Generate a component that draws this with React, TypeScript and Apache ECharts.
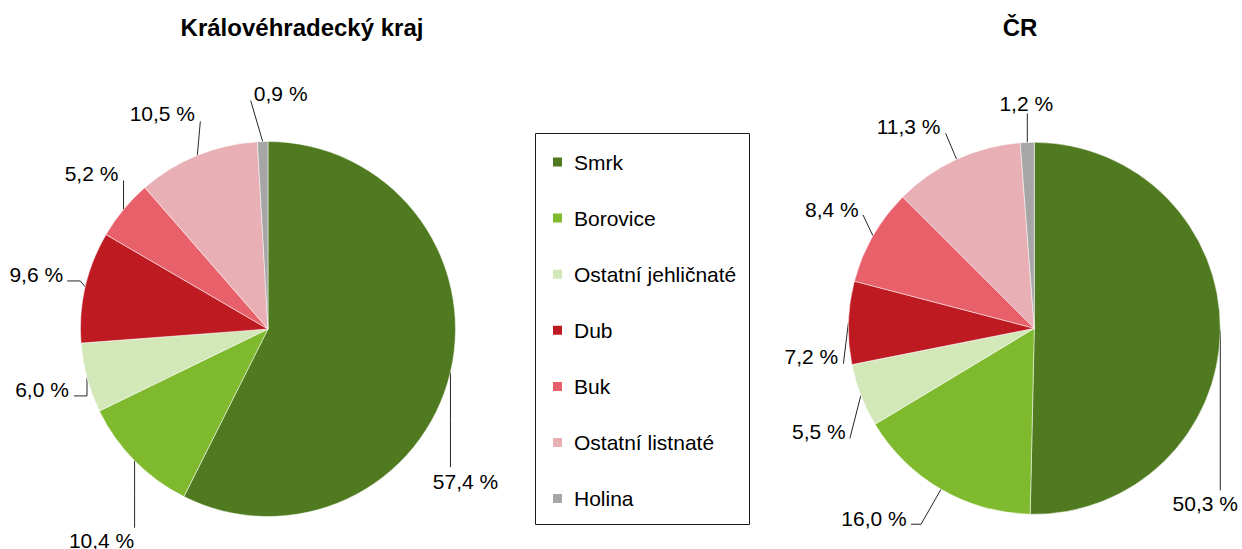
import React, { useEffect, useRef } from "react";
import * as echarts from "echarts";

// ---- data ----
const categories = [
  "Smrk",
  "Borovice",
  "Ostatní jehličnaté",
  "Dub",
  "Buk",
  "Ostatní listnaté",
  "Holina",
];
const regionValues = [57.4, 10.4, 6.0, 9.6, 5.2, 10.5, 0.9];
const czValues = [50.3, 16.0, 5.5, 7.2, 8.4, 11.3, 1.2];
const titles = ["Královéhradecký kraj", "ČR"];

// ---- styles ----
const colors = ["#4f7a1f", "#7fba2e", "#d3e8b9", "#be1a22", "#e8606a", "#e8b0b4", "#a6a6a6"];
const FONT = "'Liberation Sans', Arial, sans-serif";

// label leader-line bends relative to the slice edge point, and label offset relative to line end
const regionLabelLayout = [
  { path: [[0, 95]], label: [15, 14] },
  { path: [[0, 67]], label: [-33, 13] },
  { path: [[0, 18], [-13, 18]], label: [-32, -6] },
  { path: [[-5, -6], [-18, -6]], label: [-31, -6] },
  { path: [[0, -29]], label: [-32, -7] },
  { path: [[3, -34]], label: [-38, -8] },
  { path: [[-12, -41]], label: [30, -7] },
];
const czLabelLayout = [
  { path: [[0, 160]], label: [-15, 13] },
  { path: [[-20, 35], [-30, 35]], label: [-37, -6] },
  { path: [[-11, 43]], label: [-31, -7] },
  { path: [[-5, 41]], label: [-32, -7] },
  { path: [[-10, -21]], label: [-31, -5] },
  { path: [[-11, -26]], label: [-37, -7] },
  { path: [[0, -29]], label: [-1, -10] },
];

function makeLayout(cfg: { path: number[][]; label: number[] }[]) {
  return (params: any) => {
    const pts = params.labelLinePoints;
    if (!pts || !pts[0]) return {};
    const [sx, sy] = pts[0];
    const o = cfg[params.dataIndex];
    const line: number[][] = [[sx, sy], ...o.path.map(([dx, dy]) => [sx + dx, sy + dy])];
    if (line.length < 3) {
      const a = line[0];
      const b = line[1];
      line.splice(1, 0, [(a[0] + b[0]) / 2, (a[1] + b[1]) / 2]);
    }
    const end = line[line.length - 1];
    return {
      x: end[0] + o.label[0],
      y: end[1] + o.label[1],
      align: "center",
      verticalAlign: "middle",
      labelLinePoints: line,
    };
  };
}

function pieSeries(values: number[], center: number[], radius: number, cfg: any) {
  return {
    type: "pie",
    center,
    radius,
    startAngle: 90,
    clockwise: true,
    avoidLabelOverlap: false,
    silent: true,
    itemStyle: { borderColor: "#ffffff", borderWidth: 0.5 },
    label: {
      show: true,
      position: "outside",
      color: "#000",
      fontFamily: FONT,
      fontSize: 21,
      formatter: (p: any) => p.value.toFixed(1).replace(".", ",") + " %",
    },
    labelLine: { show: true, length: 10, length2: 10, lineStyle: { color: "#262626", width: 1 } },
    labelLayout: makeLayout(cfg),
    data: categories.map((name, i) => ({
      name,
      value: values[i],
      itemStyle: { color: colors[i] },
    })),
  };
}

export default function App() {
  const ref = useRef<HTMLDivElement>(null);
  useEffect(() => {
    if (!ref.current) return;
    const chart = echarts.init(ref.current, undefined, { renderer: "svg" });
    chart.setOption({
      animation: false,
      backgroundColor: "#ffffff",
      title: [
        {
          text: titles[0],
          left: 302,
          top: 15,
          padding: 0,
          textAlign: "center",
          textStyle: { fontFamily: FONT, fontSize: 24, fontWeight: "bold", color: "#000" },
        },
        {
          text: titles[1],
          left: 1020,
          top: 15,
          padding: 0,
          textAlign: "center",
          textStyle: { fontFamily: FONT, fontSize: 24, fontWeight: "bold", color: "#000" },
        },
      ],
      legend: {
        orient: "vertical",
        left: 551,
        top: 151.5,
        padding: 0,
        itemWidth: 11,
        itemHeight: 11,
        itemGap: 35.1,
        icon: "rect",
        selectedMode: false,
        data: categories,
        textStyle: {
          fontFamily: FONT,
          fontSize: 21,
          lineHeight: 21,
          color: "#000",
          padding: [0, 0, 0, 6],
        },
      },
      graphic: [
        {
          type: "rect",
          shape: { x: 535.5, y: 133.5, width: 214, height: 391 },
          style: { fill: "none", stroke: "#1a1a1a", lineWidth: 1 },
          silent: true,
        },
      ],
      series: [
        pieSeries(regionValues, [268, 329], 187.5, regionLabelLayout),
        pieSeries(czValues, [1034.3, 328.3], 186, czLabelLayout),
      ],
    });
    return () => chart.dispose();
  }, []);
  return (
    <div
      ref={ref}
      style={{ position: "absolute", left: 0, top: 0, width: 1242, height: 549 }}
    />
  );
}
